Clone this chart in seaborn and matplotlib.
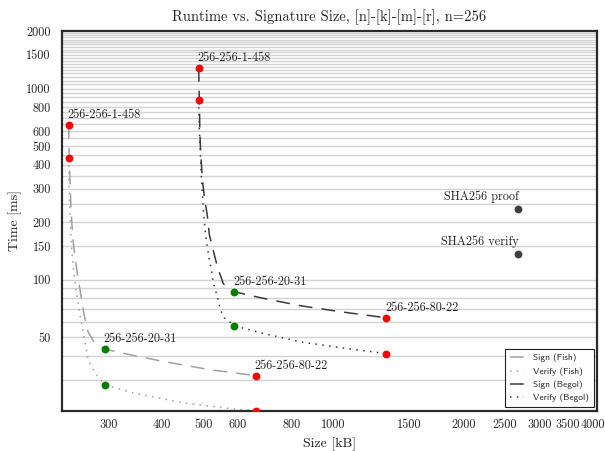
import matplotlib
matplotlib.use("Agg")
import matplotlib.pyplot as plt
import seaborn as sns
from matplotlib.ticker import FixedLocator, FixedFormatter, NullFormatter

# ---------------- data ----------------
fish_sign_x = [242.8, 243.2, 244.5, 245.8, 248.4, 252.5, 257.9, 263.6, 269.3, 278.0, 294.4, 337.2, 406.7, 517.6, 661.2]
fish_sign_y = [645.6, 479.2, 333.9, 232.5, 162.0, 119.8, 88.6, 65.6, 53.4, 47.3, 43.4, 40.5, 37.2, 33.8, 31.5]

fish_verify_x = [242.8, 243.2, 244.5, 245.8, 248.4, 252.5, 257.9, 265.0, 269.3, 279.5, 294.4, 342.7, 447.9, 585.5, 661.2]
fish_verify_y = [431.5, 314.4, 218.9, 162.0, 119.8, 88.6, 65.6, 46.8, 38.1, 32.6, 28.2, 25.6, 22.7, 21.1, 20.7]

begol_sign_x = [486.2, 488.0, 489.3, 490.6, 493.2, 495.9, 501.2, 509.3, 514.8, 525.9, 537.3, 554.8, 588.6, 676.6, 838.3, 1038, 1326]
begol_sign_y = [1283, 875.9, 610.1, 509.0, 409.9, 333.9, 272.0, 216.3, 172.0, 141.8, 117.0, 95.3, 86.5, 80.5, 73.1, 68.0, 63.2]

begol_verify_x = [486.2, 488.0, 490.6, 493.2, 495.9, 498.5, 503.9, 509.3, 514.8, 520.3, 525.9, 537.3, 546.0, 557.7, 588.6, 676.6, 838.3, 1038, 1326]
begol_verify_y = [868.6, 610.1, 462.4, 346.1, 285.5, 232.5, 176.2, 148.9, 127.3, 112.8, 96.5, 81.5, 69.7, 63.2, 57.4, 52.8, 47.3, 44.1, 41.1]

# highlighted parameter sets
red_x = [242.8, 242.8, 661.2, 661.2, 486.2, 486.2, 1326, 1326]
red_y = [645.6, 431.5, 31.5, 20.7, 1283, 868.6, 63.2, 41.1]
green_x = [294.4, 294.4, 588.6, 588.6]
green_y = [43.4, 28.2, 86.5, 57.4]
sha_x = [2683, 2683]
sha_y = [235.3, 136.8]
sha_labels = ["SHA256 proof", "SHA256 verify"]

param_label_x = [242.8, 486.2, 294.4, 588.6, 661.2, 1326]
param_label_y = [645.6, 1283, 43.4, 86.5, 31.5, 63.2]
param_labels = ["256-256-1-458", "256-256-1-458", "256-256-20-31", "256-256-20-31",
                "256-256-80-22", "256-256-80-22"]

legend_labels = ["Sign (Fish)", "Verify (Fish)", "Sign (Begol)", "Verify (Begol)"]

x_ticks = [300, 400, 500, 600, 800, 1000, 1500, 2000, 2500, 3000, 3500, 4000]
y_ticks = [50, 100, 150, 200, 300, 400, 500, 600, 800, 1000, 1500, 2000]
y_grid = [30, 40, 50, 60, 70, 80, 90] + list(range(100, 2001, 50))

# ---------------- style ----------------
sns.set_theme(style="white")
plt.rcParams["font.family"] = ["cmr10", "DejaVu Serif"]
plt.rcParams["mathtext.fontset"] = "cm"
plt.rcParams["axes.unicode_minus"] = False

fig = plt.figure(figsize=(6.05, 4.51), dpi=100)
ax = fig.add_axes([0.1025, 0.0898, 0.9868 - 0.1025, 0.9313 - 0.0898])

fish_c = "#a0a0a0"
begol_c = "#3a3a3a"
lw = 1.1

sns.lineplot(x=fish_sign_x, y=fish_sign_y, ax=ax, color=fish_c, lw=lw,
             linestyle=(0, (9, 6)), sort=False, estimator=None, label=legend_labels[0])
sns.lineplot(x=fish_verify_x, y=fish_verify_y, ax=ax, color=fish_c, lw=lw,
             linestyle=(0, (1, 3.5)), sort=False, estimator=None, label=legend_labels[1])
sns.lineplot(x=begol_sign_x, y=begol_sign_y, ax=ax, color=begol_c, lw=lw,
             linestyle=(0, (9, 6)), sort=False, estimator=None, label=legend_labels[2])
sns.lineplot(x=begol_verify_x, y=begol_verify_y, ax=ax, color=begol_c, lw=lw,
             linestyle=(0, (1, 3.5)), sort=False, estimator=None, label=legend_labels[3])

sns.scatterplot(x=red_x, y=red_y, ax=ax, color="#ff0000", s=32, linewidth=0, zorder=5)
sns.scatterplot(x=green_x, y=green_y, ax=ax, color="#008000", s=32, linewidth=0, zorder=5)
sns.scatterplot(x=sha_x, y=sha_y, ax=ax, color="#404040", s=32, linewidth=0, zorder=5)

ax.set_xscale("log")
ax.set_yscale("log")
ax.set_xlim(234.3, 4086)
ax.set_ylim(20.7, 2000)

ax.xaxis.set_major_locator(FixedLocator(x_ticks))
ax.xaxis.set_major_formatter(FixedFormatter([str(v) for v in x_ticks]))
ax.xaxis.set_minor_locator(FixedLocator([]))
ax.xaxis.set_minor_formatter(NullFormatter())
ax.yaxis.set_major_locator(FixedLocator(y_ticks))
ax.yaxis.set_major_formatter(FixedFormatter([str(v) for v in y_ticks]))
ax.yaxis.set_minor_locator(FixedLocator(y_grid))
ax.yaxis.set_minor_formatter(NullFormatter())

ax.tick_params(axis="both", which="both", length=0, labelsize=8.8, colors="#222222")
ax.tick_params(axis="y", pad=8)
ax.tick_params(axis="x", pad=6)

ax.grid(False)
ax.grid(True, axis="y", which="both", color="#d2d2d2", lw=1.0, zorder=0)
ax.set_axisbelow(True)

for sp in ax.spines.values():
    sp.set_color("#2a2a2a")
    sp.set_linewidth(1.6)

for xv, yv, t in zip(param_label_x, param_label_y, param_labels):
    ax.annotate(t, (xv, yv), xytext=(-1, 5), textcoords="offset points",
                ha="left", va="baseline", fontsize=8.8, color="#222222")
for xv, yv, t in zip(sha_x, sha_y, sha_labels):
    ax.annotate(t, (xv, yv), xytext=(0, 6), textcoords="offset points",
                ha="right", va="baseline", fontsize=8.8, color="#222222")

ax.set_title("Runtime vs. Signature Size, [n]-[k]-[m]-[r], n=256", fontsize=10.5,
             pad=7, color="#222222")
ax.set_xlabel("Size [kB]", fontsize=10, color="#222222", labelpad=5)
ax.set_ylabel("Time [ms]", fontsize=10, color="#222222", labelpad=3)

leg = ax.legend(handles=ax.lines[:4], labels=legend_labels, loc="lower right",
                prop={"family": "cmss10", "size": 6.8}, handlelength=1.5,
                handletextpad=1.0, labelspacing=0.5, borderpad=0.5,
                borderaxespad=0.35, fancybox=False, framealpha=1, edgecolor="#222222")
leg.get_frame().set_linewidth(0.8)

fig.savefig("out.png", dpi=100)
